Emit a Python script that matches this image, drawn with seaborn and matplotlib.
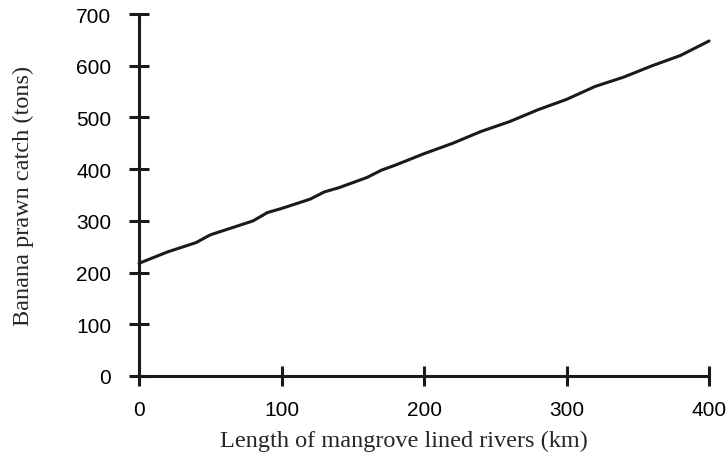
import matplotlib
matplotlib.use('Agg')
import matplotlib.pyplot as plt
import seaborn as sns
import pandas as pd

# values
river_km = [0, 20, 40, 50, 60, 80, 90, 100, 120, 130, 140, 160, 170, 180,
            200, 220, 240, 260, 280, 300, 320, 340, 360, 380, 400]
catch_tons = [218, 240, 258, 273, 282, 300, 316, 324, 342, 356, 364, 384, 398, 408,
              430, 450, 473, 492, 515, 535, 560, 578, 600, 620, 648]
x_ticks = [0, 100, 200, 300, 400]
y_ticks = [0, 100, 200, 300, 400, 500, 600, 700]

df = pd.DataFrame({'km': river_km, 'tons': catch_tons})

sns.set_style('white')
plt.rcParams['font.family'] = ['Liberation Sans', 'DejaVu Sans']

fig = plt.figure(figsize=(7.28, 4.64), dpi=100)
ax = fig.add_axes([0.191, 0.1875, 0.783, 0.78])

sns.lineplot(data=df, x='km', y='tons', ax=ax, color='#1a1a1a', linewidth=2.2, clip_on=False)

ax.set_xlim(0, 400)
ax.set_ylim(0, 700)
ax.set_xticks(x_ticks)
ax.set_yticks(y_ticks)
ax.tick_params(axis='both', bottom=True, left=True, direction='inout', length=14, width=2.2,
               colors='#1a1a1a', labelsize=15, labelcolor='black')
ax.tick_params(axis='x', pad=10)
ax.tick_params(axis='y', pad=13)

for side in ['top', 'right']:
    ax.spines[side].set_visible(False)
for side in ['left', 'bottom']:
    ax.spines[side].set_linewidth(2.2)
    ax.spines[side].set_color('#1a1a1a')

ax.set_xlabel('Length of mangrove lined rivers (km)', family='Liberation Serif', fontsize=17.5)
ax.set_ylabel('Banana prawn catch (tons)', family='Liberation Serif', fontsize=17.5)
ax.xaxis.set_label_coords(0.465, -0.15)
ax.yaxis.set_label_coords(-0.185, 0.5)

fig.savefig('out.png', dpi=100)
